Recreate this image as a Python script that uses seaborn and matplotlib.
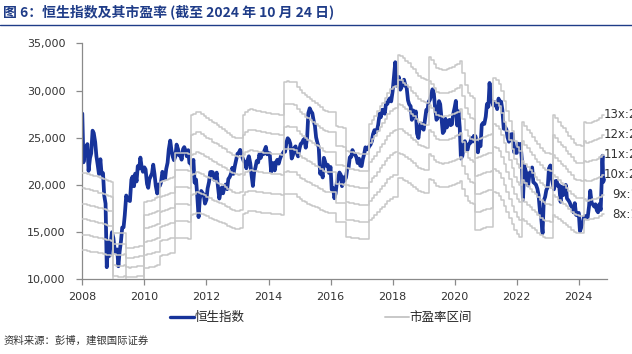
import pandas as pd
import matplotlib.pyplot as plt
import matplotlib.dates as mdates
from matplotlib.lines import Line2D
from matplotlib.ticker import FuncFormatter
import seaborn as sns

# Hang Seng Index, sampled on the 1st and 15th of each month
hsi_2008 = [27560, 22400, 23460, 24020, 24330, 21500, 22850, 23350, 25750, 25500, 24530, 23060,
            22100, 21180, 22730, 21160, 21260, 18900, 18020, 11300, 13970, 12500, 13890, 15000]
hsi_2009 = [14390, 13240, 12860, 13180, 11400, 12900, 14100, 15500, 15520, 16800, 18890, 18500,
            18380, 18300, 20570, 20890, 19870, 21200, 20380, 22000, 21750, 22900, 21820, 21400]
hsi_2010 = [21870, 21650, 20120, 19700, 20610, 20900, 21240, 22150, 21110, 19900, 19100, 20060,
            19900, 20250, 21400, 21070, 20620, 21700, 22360, 23760, 24700, 23700, 23000, 22630]
hsi_2011 = [23040, 24280, 23800, 23120, 23300, 22680, 23800, 24010, 23630, 23040, 23690, 22340,
            22400, 21870, 22660, 20250, 20580, 18900, 16600, 18500, 19370, 19170, 18990, 18030]
hsi_2012 = [18430, 19630, 20330, 21370, 21390, 21350, 20560, 20610, 21310, 19900, 18560, 19230,
            19740, 19120, 19820, 20050, 19560, 20630, 20840, 21150, 21820, 21180, 22030, 22600]
hsi_2013 = [23310, 23380, 23720, 23440, 22880, 22530, 22370, 21770, 22670, 23040, 22280, 21100,
            19900, 21300, 21880, 22540, 22390, 23250, 22860, 23340, 23250, 23660, 24040, 23250]
hsi_2014 = [23340, 23360, 21400, 22300, 22320, 21540, 22450, 22670, 22260, 22730, 23150, 23300,
            23550, 23520, 24530, 24950, 24750, 24360, 22800, 23140, 23920, 24090, 23360, 23030]
hsi_2015 = [23860, 24350, 24480, 24780, 24890, 23950, 25080, 27620, 28120, 27820, 27600, 26860,
            26280, 25050, 24410, 23990, 21180, 21560, 20800, 22880, 22370, 22010, 22130, 21270]
hsi_2016 = [21910, 19520, 19680, 18600, 19110, 20260, 20780, 21320, 21070, 19880, 20820, 20470,
            20790, 21660, 21890, 22930, 22980, 23700, 23300, 23230, 22930, 22320, 22790, 22060]
hsi_2017 = [22000, 22720, 23320, 23990, 23780, 23790, 24110, 24260, 24620, 25370, 25810, 25570,
            25765, 26390, 27540, 27170, 27970, 27810, 27550, 28690, 28590, 29020, 29180, 28850]
hsi_2018 = [29920, 31340, 33000, 30510, 30840, 31440, 30090, 30320, 30810, 31150, 30490, 30310,
            28960, 28540, 28340, 26900, 27890, 27290, 27790, 25450, 24980, 26100, 26510, 26090]
hsi_2019 = [25850, 26830, 27940, 27900, 28810, 29010, 29560, 30130, 29700, 28270, 26900, 27120,
            28880, 28550, 26900, 25500, 25720, 27000, 26090, 26500, 26900, 26330, 26440, 27510]
hsi_2020 = [28200, 28900, 26300, 27800, 26100, 22800, 23085, 24050, 24640, 23800, 23730, 24340,
            24430, 24970, 24600, 25200, 25180, 24730, 23460, 24390, 24110, 26380, 26570, 26460]
hsi_2021 = [27230, 28570, 28280, 30800, 28980, 28830, 28380, 28800, 28720, 28030, 29150, 28640,
            28830, 28000, 25960, 26180, 25880, 25030, 24580, 25330, 25380, 25390, 23480, 23420]
hsi_2022 = [23400, 24380, 23800, 24350, 22760, 18420, 22040, 21520, 21090, 19950, 21290, 21310,
            21860, 20300, 20170, 20040, 19600, 18930, 17220, 16590, 14900, 18340, 18740, 19450]
hsi_2023 = [19780, 21750, 22070, 20810, 20200, 19540, 20410, 20440, 19890, 19970, 18220, 19830,
            18920, 19410, 20010, 18580, 18380, 18180, 17810, 17640, 17100, 18080, 16830, 16790]
hsi_2024 = [17050, 15100, 15570, 15940, 16590, 16720, 16540, 16600, 17760, 19400, 18080, 17940,
            17720, 17960, 17300, 17110, 17990, 17370]
hsi_tail_dates = ['2024-09-30', '2024-10-02', '2024-10-07', '2024-10-15', '2024-10-24']
hsi_tail = [21130, 22440, 23100, 20320, 20590]

# monthly forward EPS behind the PE bands
eps_2008 = [1640, 1635, 1630, 1620, 1615, 1610, 1600, 1595, 1585, 1578, 1570, 1565]
eps_2009 = [1150, 1148, 1145, 1145, 1150, 1025, 1022, 1025, 1030, 1035, 1038, 1040]
eps_2010 = [1400, 1405, 1410, 1420, 1430, 1440, 1560, 1570, 1580, 1590, 1595, 1600]
eps_2011 = [1796, 1798, 1795, 1800, 1795, 1790, 2108, 2120, 2135, 2130, 2120, 2100]
eps_2012 = [2085, 2070, 2050, 2040, 2025, 2010, 1995, 1980, 1960, 1945, 1930, 1920]
eps_2013 = [1918, 1925, 2110, 2135, 2150, 2155, 2150, 2145, 2140, 2135, 2130, 2125]
eps_2014 = [2125, 2120, 2118, 2115, 2112, 2108, 2380, 2385, 2380, 2378, 2375, 2340]
eps_2015 = [2310, 2290, 2270, 2255, 2240, 2225, 2205, 2190, 2170, 2150, 2140, 2136]
eps_2016 = [2136, 2135, 2015, 2013, 2010, 2005, 1815, 1810, 1805, 1800, 1795, 1790]
eps_2017 = [1790, 1788, 1790, 2036, 2070, 2100, 2140, 2180, 2210, 2250, 2290, 2320]
eps_2018 = [2335, 2345, 2597, 2590, 2570, 2550, 2530, 2500, 2480, 2450, 2425, 2410]
eps_2019 = [2400, 2394, 2584, 2560, 2520, 2490, 2480, 2475, 2478, 2480, 2490, 2500]
eps_2020 = [2515, 2525, 2550, 2450, 2350, 2290, 2260, 2247, 1903, 1910, 1920, 1930]
eps_2021 = [1940, 1945, 1950, 2407, 2390, 2360, 2300, 2220, 2140, 2060, 1980, 1900]
eps_2022 = [1850, 1815, 2054, 2020, 1990, 1960, 1930, 1900, 1870, 1840, 1815, 1800]
eps_2023 = [1795, 1793, 2108, 2080, 2050, 2020, 2000, 1970, 1940, 1910, 1880, 1865]
eps_2024 = [1862, 1859, 2054, 2040, 2045, 2055, 2060, 2070, 2085, 2110]
multiples = [8, 9, 10, 11, 12, 13]

title = "图 6：恒生指数及其市盈率 (截至 2024 年 10 月 24 日)"
source = "资料来源：彭博，建银国际证券"
blue = "#17339a"
gray = "#c8c8c8"
navy = "#1f3c88"
cjk = ["Noto Sans CJK SC", "DejaVu Sans"]

hsi_values = (hsi_2008 + hsi_2009 + hsi_2010 + hsi_2011 + hsi_2012 + hsi_2013 + hsi_2014
              + hsi_2015 + hsi_2016 + hsi_2017 + hsi_2018 + hsi_2019 + hsi_2020 + hsi_2021
              + hsi_2022 + hsi_2023 + hsi_2024 + hsi_tail)
hsi_dates = list(pd.date_range("2008-01-01", "2024-09-15", freq="SMS")) + list(pd.to_datetime(hsi_tail_dates))
hsi = pd.DataFrame({"date": hsi_dates, "hsi": hsi_values})

eps_values = (eps_2008 + eps_2009 + eps_2010 + eps_2011 + eps_2012 + eps_2013 + eps_2014
              + eps_2015 + eps_2016 + eps_2017 + eps_2018 + eps_2019 + eps_2020 + eps_2021
              + eps_2022 + eps_2023 + eps_2024)
eps_dates = list(pd.date_range("2008-01-01", "2024-10-01", freq="MS")) + [pd.Timestamp("2024-10-24")]
eps_values = eps_values + [eps_values[-1]]
bands = pd.concat([pd.DataFrame({"date": eps_dates, "multiple": m, "value": [m * e for e in eps_values]})
                   for m in multiples])

sns.set_style("ticks")
plt.rcParams["font.family"] = ["DejaVu Sans", "Noto Sans CJK SC"]

fig = plt.figure(figsize=(6.32, 3.54), dpi=100)
ax = fig.add_axes([0.1302, 0.2105, 0.8302, 0.6672])

sns.lineplot(data=hsi, x="date", y="hsi", color=blue, linewidth=2.7, ax=ax, zorder=2)
sns.lineplot(data=bands, x="date", y="value", hue="multiple", palette=[gray] * len(multiples),
             legend=False, linewidth=1.1, drawstyle="steps-post", ax=ax, zorder=3)

ax.set_xlim(pd.Timestamp("2008-01-01"), pd.Timestamp("2024-11-28"))
ax.set_ylim(10000, 35000)
ax.set_yticks(range(10000, 35001, 5000))
ax.yaxis.set_major_formatter(FuncFormatter(lambda v, p: f"{v:,.0f}"))
ax.xaxis.set_major_locator(mdates.YearLocator(2))
ax.xaxis.set_major_formatter(mdates.DateFormatter("%Y"))
ax.set_xlabel("")
ax.set_ylabel("")
sns.despine(ax=ax)
for side in ["left", "bottom"]:
    ax.spines[side].set_color("#8a8a8a")
    ax.spines[side].set_linewidth(0.9)
ax.tick_params(axis="both", length=4, width=0.9, color="#8a8a8a", labelsize=8,
               labelcolor="#333333")
ax.tick_params(axis="y", pad=8)
ax.tick_params(axis="x", pad=5)

# band labels at the right end, cut by the page edge as in the source
last = eps_values[-1]
for m in multiples:
    dx = 0 if m >= 10 else 6
    ax.annotate(f"{m}x:{m * last:,.0f}", xy=(pd.Timestamp("2024-10-24"), m * last),
                xytext=(dx, 0), textcoords="offset points", ha="left", va="center",
                fontsize=8.5, color="#333333", annotation_clip=False)

fig.text(0.005, 0.966, title, fontsize=10, fontweight="bold", color=navy,
         family=cjk, ha="left", va="center")
fig.add_artist(Line2D([0, 1], [0.93, 0.93], transform=fig.transFigure, color=navy, linewidth=1))

handles = [Line2D([], [], color=blue, linewidth=2.4), Line2D([], [], color=gray, linewidth=1.4)]
fig.legend(handles, ["恒生指数", "市盈率区间"], loc="center", bbox_to_anchor=(0.508, 0.102),
           ncol=2, frameon=False, handlelength=1.9, handletextpad=0.1, columnspacing=11.2,
           prop={"family": cjk, "size": 9})

fig.text(0.005, 0.037, source, fontsize=7.5, color="#333333", family=cjk,
         ha="left", va="center", style="italic")

fig.savefig("out.png", dpi=100)
